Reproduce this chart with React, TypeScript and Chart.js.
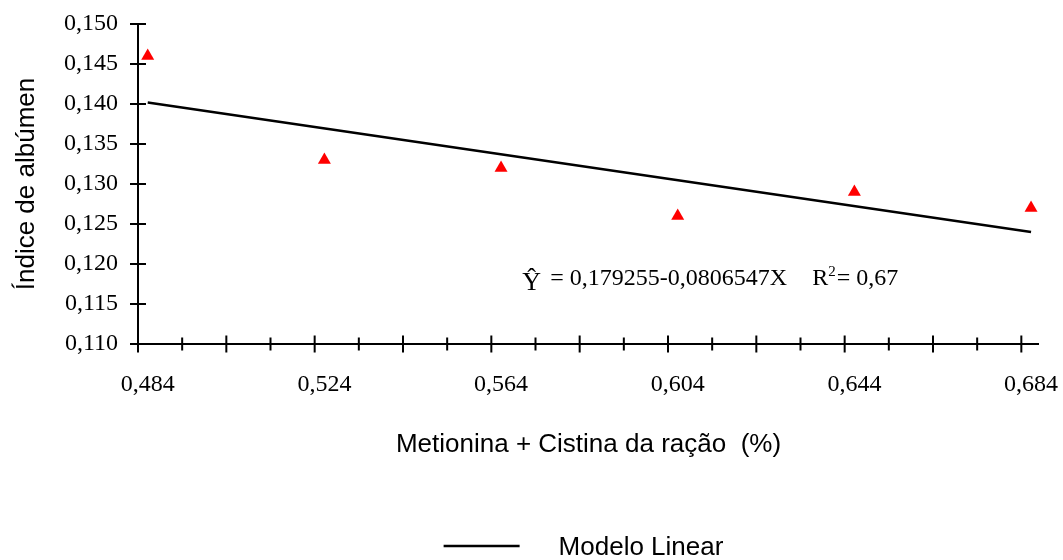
import React, { useEffect, useRef } from 'react';
import { Chart, registerables } from 'chart.js';

Chart.register(...registerables);

// ---- data ----
const doseX = [0.4862, 0.5262, 0.5662, 0.6062, 0.6462, 0.6862];
const observedY = [0.146, 0.133, 0.132, 0.126, 0.129, 0.127];
const modelX = [0.4862, 0.6862];
const modelY = [0.1402, 0.124];

const xLabelPositions = [0.4862, 0.5262, 0.5662, 0.6062, 0.6462, 0.6862];
const xTickLabels = ['0,484', '0,524', '0,564', '0,604', '0,644', '0,684'];
const xLongTicks = [0.484, 0.504, 0.524, 0.544, 0.564, 0.584, 0.604, 0.624, 0.644, 0.664, 0.684];
const xShortTicks = [0.494, 0.514, 0.534, 0.554, 0.574, 0.594, 0.614, 0.634, 0.654, 0.674];
const yTickValues = [0.11, 0.115, 0.12, 0.125, 0.13, 0.135, 0.14, 0.145, 0.15];
const yTickLabels = ['0,110', '0,115', '0,120', '0,125', '0,130', '0,135', '0,140', '0,145', '0,150'];

const xTitle = 'Metionina + Cistina da ração  (%)';
const yTitle = 'Índice de albúmen';
const modelLabel = 'Modelo Linear';
const obsLabel = 'Observado';
const eqYhat = 'Ŷ';
const eqText = '= 0,179255-0,0806547X';
const r2Letter = 'R';
const r2Sup = '2';
const r2Text = '= 0,67';
const eqAnchor = { x: 0.571, y: 0.1174 };

const SERIF = "'Times New Roman', 'Liberation Serif', serif";
const SANS = "Arial, 'Liberation Sans', sans-serif";

const axesPlugin = {
  id: 'crossAxes',
  beforeDatasetsDraw(chart: any) {
    const { ctx, chartArea, scales } = chart;
    const { left, right, top, bottom } = chartArea;
    const x = scales.x;
    const y = scales.y;
    ctx.save();
    ctx.strokeStyle = '#000';
    ctx.lineWidth = 2;
    ctx.beginPath();
    ctx.moveTo(left, top);
    ctx.lineTo(left, bottom);
    ctx.moveTo(left, bottom);
    ctx.lineTo(right, bottom);
    yTickValues.forEach((v) => {
      const py = y.getPixelForValue(v);
      ctx.moveTo(left - 8, py);
      ctx.lineTo(left + 8, py);
    });
    xLongTicks.forEach((v) => {
      const px = x.getPixelForValue(v);
      ctx.moveTo(px, bottom - 8.5);
      ctx.lineTo(px, bottom + 8.5);
    });
    xShortTicks.forEach((v) => {
      const px = x.getPixelForValue(v);
      ctx.moveTo(px, bottom - 6.5);
      ctx.lineTo(px, bottom + 6.5);
    });
    ctx.stroke();
    ctx.restore();
  },
};

const annotationPlugin = {
  id: 'equationAndLegend',
  afterDraw(chart: any) {
    const { ctx, chartArea, scales } = chart;
    const x0 = scales.x.getPixelForValue(eqAnchor.x);
    const base = scales.y.getPixelForValue(eqAnchor.y);
    ctx.save();
    ctx.fillStyle = '#000';
    ctx.textBaseline = 'alphabetic';
    ctx.textAlign = 'left';
    ctx.font = `26px ${SERIF}`;
    ctx.fillText(eqYhat, x0, base + 5);
    ctx.font = `24px ${SERIF}`;
    ctx.fillText(eqText, x0 + 28, base);
    const rx = x0 + 290;
    ctx.fillText(r2Letter, rx, base);
    const rw = ctx.measureText(r2Letter).width;
    ctx.font = `15px ${SERIF}`;
    ctx.fillText(r2Sup, rx + rw, base - 9);
    const sw = ctx.measureText(r2Sup).width;
    ctx.font = `24px ${SERIF}`;
    ctx.fillText(r2Text, rx + rw + sw + 1, base);

    // legend (only the model line is listed)
    const ds = chart.data.datasets.find((d: any) => d.label === modelLabel);
    const label = ds ? ds.label : modelLabel;
    ctx.font = `26px ${SANS}`;
    const tw = ctx.measureText(label).width;
    const lineLen = 76;
    const gap = 39;
    const total = lineLen + gap + tw;
    const cx = (chartArea.left + chartArea.right) / 2 - 5;
    const sx = cx - total / 2;
    const ly = chart.height - 14;
    ctx.strokeStyle = ds ? ds.borderColor : '#000';
    ctx.lineWidth = 2.5;
    ctx.beginPath();
    ctx.moveTo(sx, ly);
    ctx.lineTo(sx + lineLen, ly);
    ctx.stroke();
    ctx.textBaseline = 'middle';
    ctx.fillText(label, sx + lineLen + gap, ly + 2);
    ctx.restore();
  },
};

export default function App() {
  const canvasRef = useRef<HTMLCanvasElement | null>(null);

  useEffect(() => {
    if (!canvasRef.current) return;
    const chart = new Chart(canvasRef.current, {
      type: 'scatter',
      data: {
        datasets: [
          {
            type: 'scatter',
            label: obsLabel,
            data: doseX.map((x, i) => ({ x, y: observedY[i] })),
            pointStyle: 'triangle',
            pointRadius: 7.5,
            backgroundColor: '#ff0000',
            borderColor: '#ff0000',
            borderWidth: 0,
          } as any,
          {
            type: 'line',
            label: modelLabel,
            data: modelX.map((x, i) => ({ x, y: modelY[i] })),
            borderColor: '#000',
            backgroundColor: '#000',
            borderWidth: 2.5,
            pointRadius: 0,
            tension: 0,
            fill: false,
          } as any,
        ],
      },
      options: {
        responsive: true,
        maintainAspectRatio: false,
        animation: false,
        layout: { padding: { top: 24, right: 24, left: 0, bottom: 0 } },
        plugins: { legend: { display: false }, tooltip: { enabled: false } },
        scales: {
          x: {
            type: 'linear',
            min: 0.484,
            max: 0.688,
            afterBuildTicks: (s: any) => {
              s.ticks = xLabelPositions.map((v) => ({ value: v }));
            },
            afterFit: (s: any) => {
              s.height = 216;
              s.paddingLeft = 0;
              s.paddingRight = 0;
            },
            grid: { display: false },
            border: { display: false },
            ticks: {
              callback: (_v: any, i: number) => xTickLabels[i],
              font: { family: SERIF, size: 24 },
              color: '#000',
              padding: 18,
              maxRotation: 0,
              autoSkip: false,
            },
            title: {
              display: true,
              text: xTitle,
              font: { family: SANS, size: 26 },
              color: '#000',
              padding: { top: 0, bottom: 100 },
            },
          },
          y: {
            type: 'linear',
            min: 0.11,
            max: 0.15,
            afterBuildTicks: (s: any) => {
              s.ticks = yTickValues.map((v) => ({ value: v }));
            },
            afterFit: (s: any) => {
              s.width = 138;
              s.paddingTop = 0;
              s.paddingBottom = 0;
            },
            grid: { display: false },
            border: { display: false },
            ticks: {
              callback: (_v: any, i: number) => yTickLabels[i],
              font: { family: SERIF, size: 24 },
              color: '#000',
              padding: 12,
              autoSkip: false,
            },
            title: {
              display: true,
              text: yTitle,
              font: { family: SANS, size: 26 },
              color: '#000',
              padding: { top: 11, bottom: 0 },
            },
          },
        },
      },
      plugins: [axesPlugin, annotationPlugin],
    });
    return () => chart.destroy();
  }, []);

  return (
    <div style={{ position: 'absolute', left: 0, top: 0, width: 1063, height: 560, background: '#fff' }}>
      <canvas ref={canvasRef} />
    </div>
  );
}
